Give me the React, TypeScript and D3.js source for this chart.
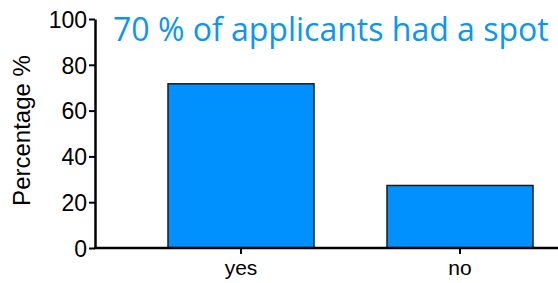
import React, { useEffect, useRef } from 'react';
import * as d3 from 'd3';

const categories = ['yes', 'no'];
const percentages = [71.7, 27.3];
const yTicks = [0, 20, 40, 60, 80, 100];
const title = '70 % of applicants had a spot';

const W = 558;
const H = 283;

export default function App() {
  const svgRef = useRef<SVGSVGElement>(null);

  useEffect(() => {
    if (!svgRef.current) return;
    const svg = d3.select(svgRef.current);
    svg.selectAll('*').remove();

    const x0 = 95;
    const yScale = d3.scaleLinear().domain([0, 100]).range([248, 19]);
    // bars are 2/3 of a step, first bar starts a third of a step past the axis
    const xScale = d3.scaleBand<string>()
      .domain(categories)
      .range([x0, x0 + 219 * (7 / 3)])
      .paddingInner(1 / 3)
      .paddingOuter(1 / 3);

    const font = 'Liberation Sans, Arial, sans-serif';

    // bars
    svg.append('g')
      .selectAll('rect')
      .data(categories)
      .enter()
      .append('rect')
      .attr('x', d => xScale(d)!)
      .attr('y', (d, i) => yScale(percentages[i]))
      .attr('width', xScale.bandwidth())
      .attr('height', (d, i) => yScale(0) - yScale(percentages[i]))
      .attr('fill', '#0091ff')
      .attr('stroke', '#1a1a1a')
      .attr('stroke-width', 1.5);

    // y axis
    const yAxis = svg.append('g')
      .attr('transform', `translate(${x0},0)`)
      .call(d3.axisLeft(yScale).tickValues(yTicks).tickSize(6).tickSizeOuter(0).tickPadding(2));
    yAxis.select('.domain').attr('stroke', '#000').attr('stroke-width', 2.5);
    yAxis.selectAll('.tick line').attr('stroke', '#000').attr('stroke-width', 2);
    yAxis.selectAll('.tick text')
      .attr('font-family', font)
      .attr('font-size', 23)
      .attr('fill', '#000')
      .attr('dy', '0.36em');

    // x axis
    const xAxis = svg.append('g')
      .attr('transform', `translate(0,${yScale(0)})`)
      .call(d3.axisBottom(xScale).tickSize(6).tickSizeOuter(0).tickPadding(6));
    xAxis.select('.domain').attr('stroke', '#000').attr('stroke-width', 2.5)
      .attr('d', `M${x0 - 1},0H${W}`);
    xAxis.selectAll('.tick line').attr('stroke', '#000').attr('stroke-width', 2);
    xAxis.selectAll('.tick text')
      .attr('font-family', font)
      .attr('font-size', 21)
      .attr('fill', '#000');

    // y label
    svg.append('text')
      .attr('transform', `translate(30,${(53 + 208) / 2}) rotate(-90)`)
      .attr('text-anchor', 'middle')
      .attr('font-family', font)
      .attr('font-size', 24)
      .attr('fill', '#000')
      .text('Percentage %');

    // title
    svg.append('text')
      .attr('x', 113)
      .attr('y', 41)
      .attr('font-family', 'Open Sans, sans-serif')
      .attr('font-size', 32)
      .attr('fill', '#0a96f2')
      .text(title);
  }, []);

  return (
    <svg
      ref={svgRef}
      width={W}
      height={H}
      style={{ position: 'absolute', left: 0, top: 0, background: '#fff' }}
    />
  );
}
